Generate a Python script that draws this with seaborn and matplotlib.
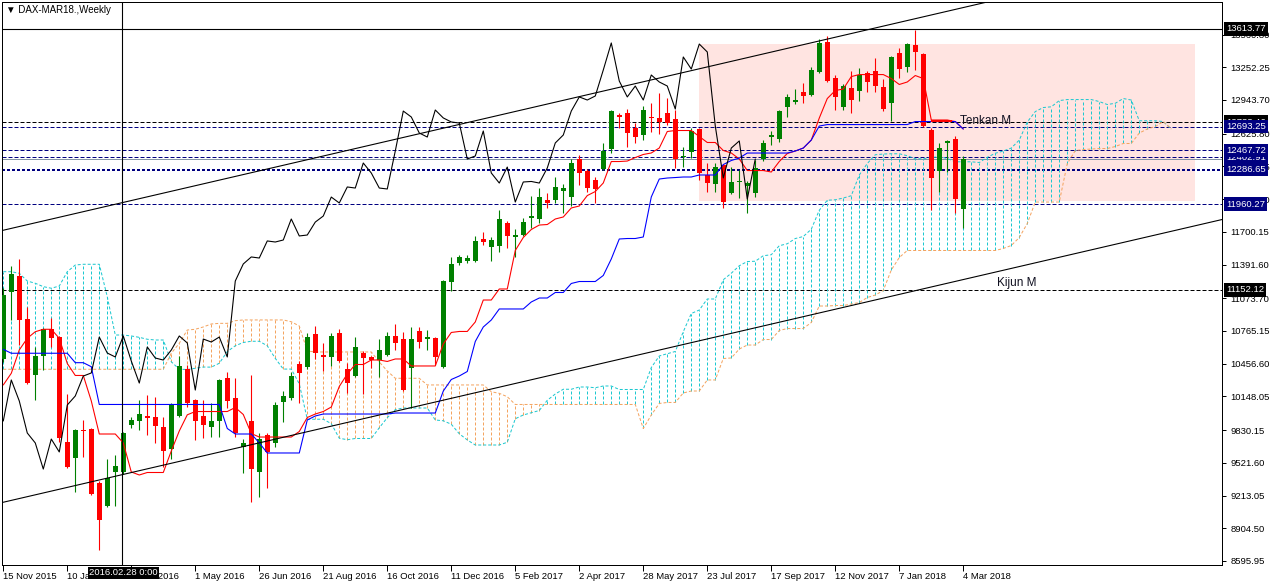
import numpy as np
import pandas as pd
import matplotlib
matplotlib.use("Agg")
import matplotlib.pyplot as plt
import matplotlib.transforms as mtransforms
from matplotlib.colors import to_rgba
from matplotlib.patches import Rectangle
import seaborn as sns


# weekly DAX-MAR18 candles, 15 Nov 2015 .. 4 Mar 2018
opens = [10501, 11133, 11283, 10878, 10352, 10529, 10784, 10708, 9718, 9567,
         9831, 9841, 9331, 9115, 9435, 9435, 9878, 9916, 9963, 9954,
         9860, 9652, 9963, 10406, 10114, 9963, 9860, 9916, 10321, 10133,
         9671, 9916, 9435, 9784, 9709, 10095, 10133, 10454, 10425, 10737,
         10538, 10520, 10746, 10406, 10340, 10557, 10520, 10491, 10538, 10718,
         10689, 10416, 10765, 10689, 10699, 10425, 11227, 11406, 11425, 11425,
         11632, 11557, 11566, 11783, 11651, 11670, 11830, 11821, 12000, 12000,
         12085, 12028, 12387, 12274, 12189, 12292, 12481, 12802, 12820, 12679,
         12613, 12783, 12774, 12820, 12764, 12406, 12453, 12670, 12236, 12151,
         12330, 12066, 12170, 12132, 12066, 12387, 12594, 12575, 12877, 12924,
         13018, 12990, 13207, 13490, 13151, 12877, 13056, 13028, 13198, 13216,
         13066, 12915, 13386, 13254, 13462, 13377, 12660, 12274, 12538, 12575,
         11915]
highs = [11170, 11378, 11444, 10991, 10614, 10793, 10887, 10720, 10171, 9840,
         9926, 9850, 9350, 9558, 9596, 9812, 9950, 10114, 10161, 10142,
         9954, 10090, 10529, 10444, 10125, 10114, 10086, 10310, 10378, 10321,
         9746, 10350, 9803, 9803, 10095, 10199, 10378, 10482, 10746, 10812,
         10652, 10746, 10784, 10463, 10708, 10576, 10530, 10689, 10755, 10831,
         10755, 10802, 10802, 10774, 10705, 11245, 11463, 11482, 11482, 11661,
         11698, 11651, 11906, 11802, 11726, 11830, 12038, 12113, 12066, 12217,
         12151, 12387, 12424, 12290, 12217, 12538, 12849, 12820, 12858, 12726,
         12887, 12915, 13009, 12962, 12849, 12500, 12679, 12679, 12349, 12349,
         12340, 12311, 12283, 12179, 12377, 12566, 12651, 12849, 13000, 13047,
         13103, 13254, 13518, 13546, 13179, 13094, 13216, 13245, 13216, 13339,
         13141, 13355, 13434, 13481, 13603, 13390, 12679, 12538, 12566, 12604,
         12415]
lows = [10472, 10868, 10633, 10265, 10114, 10397, 10614, 9718, 9473, 9247,
        9577, 9220, 8700, 9105, 9115, 9420, 9850, 9831, 9784, 9709,
        9482, 9558, 9955, 10048, 9737, 9756, 9765, 9765, 10039, 9765,
        9426, 9152, 9199, 9284, 9671, 9907, 10114, 10086, 10406, 10501,
        10388, 10435, 10470, 10180, 10331, 10171, 10416, 10331, 10530, 10585,
        10199, 10039, 10604, 10585, 10444, 10416, 11142, 11387, 11406, 11415,
        11576, 11425, 11510, 11547, 11463, 11660, 11736, 11783, 11925, 11972,
        11877, 11943, 12141, 12076, 11972, 12283, 12443, 12679, 12500, 12538,
        12566, 12641, 12623, 12707, 12302, 12311, 12396, 12189, 12076, 12076,
        11925, 12060, 12019, 11877, 12028, 12368, 12519, 12547, 12782, 12905,
        12915, 12985, 13200, 13113, 12849, 12849, 12820, 12934, 13018, 13018,
        12839, 12745, 13151, 13207, 13226, 12688, 11906, 12076, 12264, 11877,
        11736]
closes = [11104, 11302, 10868, 10274, 10529, 10784, 10699, 9756, 9482, 9831,
          9822, 9228, 8983, 9379, 9492, 9803, 9926, 9982, 9944, 9869,
          9633, 10076, 10435, 10086, 9916, 9878, 9916, 10303, 10105, 9803,
          9709, 9463, 9746, 9624, 10067, 10152, 10340, 10369, 10708, 10557,
          10520, 10718, 10482, 10274, 10614, 10510, 10491, 10585, 10718, 10652,
          10208, 10689, 10661, 10708, 10520, 11236, 11397, 11463, 11453, 11614,
          11604, 11623, 11821, 11661, 11670, 11792, 11849, 12028, 11972, 12123,
          12113, 12349, 12255, 12113, 12104, 12462, 12839, 12783, 12632, 12594,
          12849, 12774, 12736, 12726, 12387, 12415, 12651, 12255, 12160, 12311,
          11981, 12170, 12175, 12160, 12302, 12538, 12613, 12839, 12972, 12943,
          12981, 13226, 13481, 13122, 12972, 13075, 12943, 13179, 13113, 13075,
          12858, 13349, 13235, 13471, 13396, 12698, 12208, 12490, 12557, 12009,
          12387]

# ichimoku values at the left edge, where the history lies before the first bar
tenkan_head = [10256, 10366, 10586, 10696, 10758, 10781, 10781, 10696]
kijun_head = [10592, 10555, 10555, 10555, 10555, 10555, 10555, 10555, 10555,
              10466, 10466, 10428, 10072, 10072, 10072, 10072, 10072, 10072,
              10072, 10072, 10072, 10072, 10072, 10072, 10072]
span_a_head = [11324, 11324, 11309, 11236, 11215, 11183, 11168, 11189, 11324,
               11387, 11394, 11394, 11394, 11088, 10727, 10727, 10718, 10705,
               10687, 10680, 10680, 10475, 10404, 10402, 10413, 10425]
span_b_head = [10404, 10404, 10404, 10404, 10404, 10404, 10404, 10404, 10404,
               10404, 10404, 10404, 10404, 10404, 10404, 10404, 10404, 10404,
               10404, 10404, 10404, 10555, 10649, 10774, 10781, 10803, 10831,
               10837, 10837, 10862, 10869, 10869, 10869, 10869, 10869, 10869,
               10852, 10812, 10576, 10567, 10567, 10567, 10567, 10567, 10567,
               10567, 10567, 10473, 10388, 10319, 10319, 10319, 10319, 10256,
               10256, 10256, 10256, 10256, 10256, 10256, 10256, 10192, 10177,
               10145, 10072, 10072, 10072, 10072, 10072, 10072, 10072, 10072,
               10072, 10072, 10072, 10072, 10072]

# axis labels
date_labels = ["15 Nov 2015", "10 Jan 2016", "6 Mar 2016", "1 May 2016",
               "26 Jun 2016", "21 Aug 2016", "16 Oct 2016", "11 Dec 2016",
               "5 Feb 2017", "2 Apr 2017", "28 May 2017", "23 Jul 2017",
               "17 Sep 2017", "12 Nov 2017", "7 Jan 2018", "4 Mar 2018"]
price_ticks = [13560.80, 13252.25, 12943.70, 12625.80, 12317.25, 12008.70,
               11700.15, 11391.60, 11073.70, 10765.15, 10456.60, 10148.05,
               9830.15, 9521.60, 9213.05, 8904.50, 8595.95]

# horizontal levels drawn on the chart
level_prices = [12733.46, 12693.25, 12467.72, 12402.91, 11960.27, 11152.12]
level_colors = ["black", "navy", "navy", "navy", "navy", "black"]
thick_level = 12286.65
bid_price = 12387
cross_price = 13613.77
cross_bar = 15
cross_label = "2016.02.28 0:00"

# channel lines (bar, price) anchors and the highlight box
upper_channel = [(0, 11715), (120, 13815)]
lower_channel = [(0, 9150), (120, 11250)]
box_bars = (87, 149)
box_prices = (11990, 13471)
tenkan_m = 12748

BULL = "#008000"
BEAR = "#ff0000"
SPAN_A = "#1cc8d0"
SPAN_B = "#f4a460"
PX = 0.72  # one screen pixel in points


def ichimoku(df):
    hi9 = df["high"].rolling(9).max()
    lo9 = df["low"].rolling(9).min()
    tenkan = (hi9 + lo9) / 2
    tenkan.iloc[:len(tenkan_head)] = tenkan_head

    hi26 = df["high"].rolling(26).max()
    lo26 = df["low"].rolling(26).min()
    kijun = (hi26 + lo26) / 2
    kijun.iloc[:len(kijun_head)] = kijun_head

    hi52 = df["high"].rolling(52).max()
    lo52 = df["low"].rolling(52).min()
    b52 = (hi52 + lo52) / 2

    n = len(df)
    span_a = np.full(n + 26, np.nan)
    span_b = np.full(n + 26, np.nan)
    span_a[26:] = ((tenkan + kijun) / 2).values
    span_b[26:] = b52.values
    span_a[:len(span_a_head)] = span_a_head
    span_b[:len(span_b_head)] = span_b_head
    return tenkan.values, kijun.values, span_a, span_b


def main():
    df = pd.DataFrame({"open": opens, "high": highs, "low": lows, "close": closes})
    n = len(df)
    bars = np.arange(n)
    tenkan, kijun, span_a, span_b = ichimoku(df)

    sns.set_theme(style="white")
    plt.rcParams["font.family"] = ["Liberation Sans", "DejaVu Sans"]

    fig = plt.figure(figsize=(12.72, 5.85), dpi=100)
    ax = fig.add_axes([2 / 1272, 20 / 585, 1220 / 1272, 563 / 585])
    ax.set_xlim(-0.16, 152.34)
    ax.set_ylim(8558.2, 13867.3)
    ax.set_facecolor("white")

    # highlight box
    ax.add_patch(Rectangle((box_bars[0], box_prices[0]), box_bars[1] - box_bars[0],
                           box_prices[1] - box_prices[0], fc="#ffe4e1", ec="none", zorder=0))

    # horizontal levels
    for p, c in zip(level_prices, level_colors):
        ax.axhline(p, color=c, lw=PX, ls=(0, (4, 2)), zorder=1)
    ax.axhline(thick_level, color="navy", lw=2 * PX, ls=(0, (1.5, 1)), zorder=1)
    ax.axhline(bid_price, color="#8494a4", lw=PX, zorder=1)

    # cloud hatching and spans
    k = np.arange(len(span_a))
    top = np.maximum(span_a, span_b)
    bot = np.minimum(span_a, span_b)
    hcol = [to_rgba(SPAN_A) if a >= b else to_rgba(SPAN_B) for a, b in zip(span_a, span_b)]
    ax.vlines(k, bot, top, colors=hcol, lw=PX, linestyles=[(0, (3, 2))], zorder=2)
    sns.lineplot(x=k, y=span_a, ax=ax, color=SPAN_A, linewidth=PX,
                 linestyle=(0, (3, 2)), estimator=None, sort=False, zorder=3)
    sns.lineplot(x=k, y=span_b, ax=ax, color=SPAN_B, linewidth=PX,
                 linestyle=(0, (3, 2)), estimator=None, sort=False, zorder=3)

    # candles
    o = df["open"].values
    c = df["close"].values
    colors = np.where(c >= o, BULL, BEAR)
    ax.vlines(bars, df["low"].values, df["high"].values, colors=colors, lw=1.1 * PX, zorder=4)
    body_lo = np.minimum(o, c)
    body_h = np.maximum(np.abs(c - o), 10)
    ax.bar(bars, body_h, width=0.62, bottom=body_lo, color=colors, lw=0, zorder=4)

    # tenkan, kijun, chikou
    sns.lineplot(x=bars, y=tenkan, ax=ax, color="red", linewidth=1.1 * PX,
                 estimator=None, sort=False, zorder=5)
    sns.lineplot(x=bars, y=kijun, ax=ax, color="blue", linewidth=1.1 * PX,
                 estimator=None, sort=False, zorder=5)
    sns.lineplot(x=bars[:n - 26], y=c[26:], ax=ax, color="black", linewidth=1.1 * PX,
                 estimator=None, sort=False, zorder=5)
    ax.hlines(tenkan_m, 116, 118.6, color="red", lw=2 * PX, zorder=5)

    # channel
    ax.axline(upper_channel[0], upper_channel[1], color="black", lw=1.1 * PX, zorder=6)
    ax.axline(lower_channel[0], lower_channel[1], color="black", lw=1.1 * PX, zorder=6)

    # crosshair
    ax.axvline(cross_bar - 0.15, color="black", lw=1.1 * PX, zorder=6)
    ax.axhline(cross_price, color="black", lw=1.1 * PX, zorder=6)

    ax.text(119.6, 12745, "Tenkan M", fontsize=8.5, color="#101020", ha="left",
            va="center", zorder=7)
    ax.text(124.2, 11217, "Kijun M", fontsize=8.5, color="#101020", ha="left",
            va="center", zorder=7)

    # axes
    for sp in ax.spines.values():
        sp.set_color("black")
        sp.set_linewidth(PX)
    ax.yaxis.tick_right()
    ax.set_yticks(price_ticks, [f"{p:.2f}" for p in price_ticks])
    ax.set_xticks(np.arange(0, n, 8), date_labels)
    for lbl in ax.get_xticklabels():
        lbl.set_ha("left")
    ax.tick_params(axis="y", direction="out", length=3, width=PX, pad=3,
                   labelsize=6.8, colors="black", right=True, left=False)
    ax.tick_params(axis="x", direction="out", length=4, width=PX, pad=1,
                   labelsize=6.8, colors="black", bottom=True)
    ax.grid(False)

    # price tags on the right scale
    ytrans = mtransforms.blended_transform_factory(ax.transAxes, ax.transData)
    tags = [(cross_price, "black"), (level_prices[0], "black"),
            (level_prices[1], "navy"), (level_prices[3], "navy"),
            (level_prices[2], "navy"), (thick_level, "navy"),
            (level_prices[4], "navy"), (level_prices[5], "black")]
    for p, col in tags:
        ax.text(1 + 4 / 1220, p, f"{p:.2f}", transform=ytrans, fontsize=6.8,
                color="white", ha="left", va="center", clip_on=False, zorder=10,
                bbox=dict(boxstyle="square,pad=0.25", fc=col, ec="none"))

    xtrans = mtransforms.blended_transform_factory(ax.transData, ax.transAxes)
    ax.text(cross_bar, -0.0135, cross_label, transform=xtrans, fontsize=6.8,
            color="white", ha="center", va="center", clip_on=False, zorder=10,
            bbox=dict(boxstyle="square,pad=0.15", fc="black", ec="none"))

    fig.text(6 / 1272, 1 - 10 / 585, "\u25bc DAX-MAR18.,Weekly", fontsize=7,
             color="black", ha="left", va="center")

    fig.savefig("out.png", dpi=100, facecolor="white")
    plt.close(fig)


if __name__ == "__main__":
    main()
